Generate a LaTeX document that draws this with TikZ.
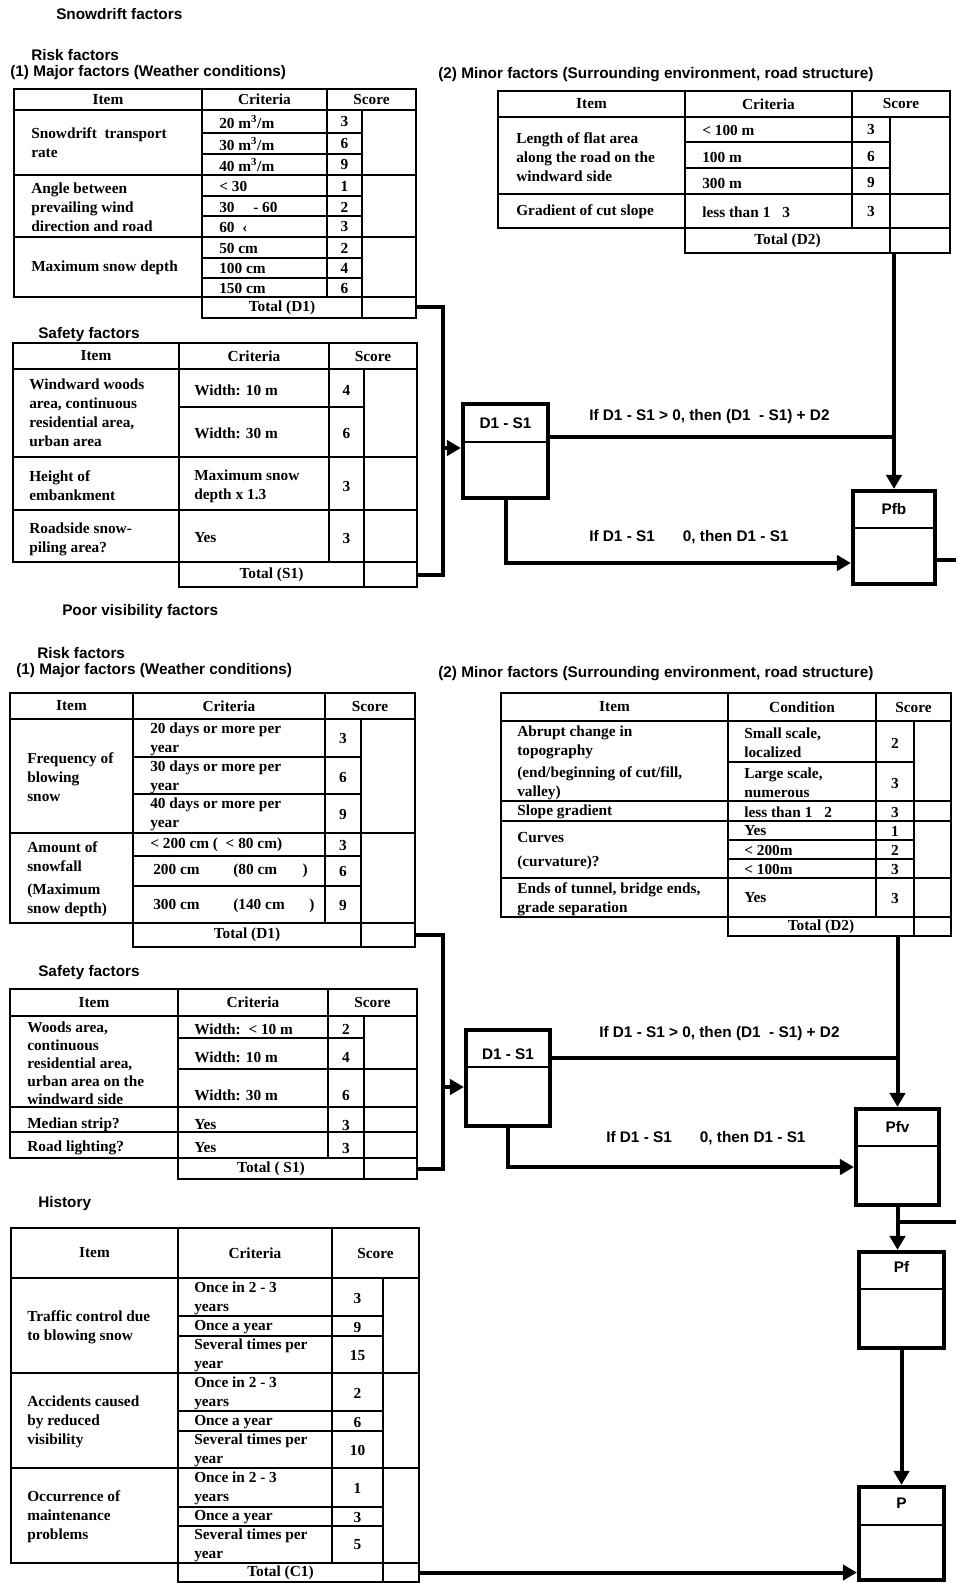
\documentclass[tikz,border=0pt]{standalone}
\usepackage{fontspec}
\setmainfont{Liberation Serif}
\newfontfamily\headfont{Liberation Sans}
\usetikzlibrary{arrows.meta,fit}

\newcommand\tabtext{\bfseries\fontsize{11.5}{14.25}\selectfont}
\newcommand\headtext{\headfont\bfseries\fontsize{11.5}{14}\selectfont}

\tikzset{
  heading/.style={font=\headtext, anchor=west, inner sep=0pt},
  cell/.style={font=\tabtext, anchor=west, align=left, inner sep=0pt},
  num/.style={font=\tabtext, inner sep=0pt},
  grid/.style={line width=1.25pt},
  frame/.style={line width=1.8pt},
  totline/.style={line width=2.2pt},
  calcbox/.style={draw, line width=3.2pt, inner sep=0pt},
  link/.style={line width=3pt},
  arr/.style={link, -{Triangle[length=10.5pt,width=11.5pt]}},
}

\begin{document}
\begin{tikzpicture}[x=0.75pt, y=-0.75pt]
  \useasboundingbox (0,0) rectangle (956,1583);

  % 1. Snowdrift factors - major factors (D1)
  \node[heading] (tSnow) at (56,14) {Snowdrift factors};
  \node[heading] (tRiskA) at (31,55) {Risk factors};
  \node[heading] (tMajA) at (10,73) {(1) Major factors (Weather conditions)};
  \draw[frame] (14,89) rectangle (416,297);
  \draw[grid] (14,110) -- (416,110) (14,175) -- (416,175) (14,237) -- (416,237)
    (202,89) -- (202,297) (327,89) -- (327,297) (362,110) -- (362,297);
  \foreach \y in {133,154,196,216,258,278} \draw[grid] (202,\y) -- (362,\y);
  \node[num] (aH1) at (108,99.5) {Item};
  \node[num] (aH2) at (264.5,99.5) {Criteria};
  \node[num] (aH3) at (371.5,99.5) {Score};
  \node[cell] (aI1) at (31,143) {Snowdrift~ transport\\rate};
  \node[cell] (aI2) at (31,207) {Angle between\\prevailing wind\\direction and road};
  \node[cell] (aI3) at (31,268) {Maximum snow depth};
  \foreach \t/\s/\y [count=\i] in {{20 m\textsuperscript{3}/m}/3/122, {30 m\textsuperscript{3}/m}/6/144,
      {40 m\textsuperscript{3}/m}/9/165, < 30/1/186, 30\hspace{14pt}- 60/2/207, 60\enspace ‹/3/227,
      50 cm/2/248, 100 cm/4/268, 150 cm/6/288}
  { \node[cell] (aC\i) at (219,\y) {\t};
    \node[num] (aS\i) at (344.5,\y) {\s}; }
  \node[fit={(202,297) (416,318)}, draw, totline, inner sep=0pt] (totA) {};
  \draw[totline] (362,297) -- (362,318);
  \node[num] (totAt) at (282,307.5) {Total (D1)};

  % 2. Snowdrift factors - minor factors (D2)
  \node[heading] (tMinA) at (438,75) {(2) Minor factors (Surrounding environment, road structure)};
  \draw[frame] (498,91) rectangle (950,228);
  \draw[grid] (498,117) -- (950,117) (498,194) -- (950,194)
    (685,91) -- (685,228) (852,91) -- (852,228) (890,117) -- (890,228);
  \foreach \y in {142,168} \draw[grid] (685,\y) -- (890,\y);
  \node[num] (bH1) at (591.5,104) {Item};
  \node[num] (bH2) at (768.5,104) {Criteria};
  \node[num] (bH3) at (901,104) {Score};
  \node[cell] (bI1) at (516,157) {Length of flat area\\along the road on the\\windward side};
  \node[cell] (bI2) at (516,212) {Gradient of cut slope};
  \foreach \t/\s/\y [count=\i] in {< 100 m/3/130, 100 m/6/157, 300 m/9/183, less than 1\hspace{9pt}3/3/212}
  { \node[cell] (bC\i) at (702,\y) {\t};
    \node[num] (bS\i) at (871,\y) {\s}; }
  \node[fit={(685,228) (950,253)}, draw, totline, inner sep=0pt] (totB) {};
  \draw[totline] (890,228) -- (890,253);
  \node[num] (totBt) at (787.5,240.5) {Total (D2)};

  % 3. Snowdrift factors - safety factors (S1)
  \node[heading] (tSafeA) at (38,335) {Safety factors};
  \draw[frame] (13,343) rectangle (417,562);
  \draw[grid] (13,369) -- (417,369) (13,457) -- (417,457) (13,510) -- (417,510)
    (179,343) -- (179,562) (329,343) -- (329,562) (364,369) -- (364,562)
    (179,407) -- (364,407);
  \node[num] (cH1) at (96,356) {Item};
  \node[num] (cH2) at (254,356) {Criteria};
  \node[num] (cH3) at (373,356) {Score};
  \node[cell] (cI1) at (29,413) {Windward woods\\area, continuous\\residential area,\\urban area};
  \node[cell] (cI2) at (29,486) {Height of\\embankment};
  \node[cell] (cI3) at (29,539) {Roadside snow-\\piling area?};
  \foreach \t/\s/\y [count=\i] in {Width: 10 m/4/390, Width: 30 m/6/433,
      Maximum snow\\depth x 1.3/3/486, Yes/3/538}
  { \node[cell] (cC\i) at (194,\y) {\t};
    \node[num] (cS\i) at (346.5,\y) {\s}; }
  \node[fit={(179,562) (417,587)}, draw, totline, inner sep=0pt] (totC) {};
  \draw[totline] (364,562) -- (364,587);
  \node[num] (totCt) at (271.5,574.5) {Total (S1)};

  % 4. Snowdrift factors - evaluation
  \node[fit={(463,404) (548,498)}, calcbox] (diffA) {};
  \draw[grid] (diffA.west |- 0,442) -- (diffA.east |- 0,442);
  \node[heading, anchor=center] (diffAt) at (505.5,423) {D1 - S1};
  \node[fit={(853,491) (935,584)}, calcbox] (pfb) {};
  \draw[grid] (pfb.west |- 0,528) -- (pfb.east |- 0,528);
  \node[heading, anchor=center] (pfbt) at (894,509) {Pfb};
  \coordinate (jA) at (443,448);
  \coordinate (outA) at (956,560);
  \draw[link] (totA.east) -| (jA) |- (totC.east);
  \draw[arr] (jA) -- (diffA.west |- jA);
  \draw[arr] (totB.south -| pfb.north) -- (pfb.north);
  \draw[link] (diffA.east |- 0,437) -- (pfb.north |- 0,437);
  \draw[arr] (diffA.south) |- (pfb.west |- 0,563);
  \draw[link] (pfb.east |- outA) -- (outA);
  \node[heading] (condA1) at (589,417) {If D1 - S1 > 0, then (D1\ \ - S1) + D2};
  \node[heading] (condA2) at (589,537) {If D1 - S1\hspace{21pt}0, then D1 - S1};

  % 5. Poor visibility factors - major factors (D1)
  \node[heading] (tPoor) at (62,612) {Poor visibility factors};
  \node[heading] (tRiskB) at (37,653) {Risk factors};
  \node[heading] (tMajB) at (16,671) {(1) Major factors (Weather conditions)};
  \draw[frame] (10,693) rectangle (415,923);
  \draw[grid] (10,719) -- (415,719) (10,833) -- (415,833)
    (133,693) -- (133,923) (325,693) -- (325,923) (361,719) -- (361,923);
  \foreach \y in {757,794,856,886} \draw[grid] (133,\y) -- (361,\y);
  \node[num] (dH1) at (71.5,706) {Item};
  \node[num] (dH2) at (229,706) {Criteria};
  \node[num] (dH3) at (370,706) {Score};
  \node[cell] (dI1) at (27,777) {Frequency of\\blowing\\snow};
  \node[cell] (dI2) at (27,879) {Amount of\\snowfall\\[3pt](Maximum\\snow depth)};
  \node[cell] (dC1) at (150,739) {20 days or more per\\year};
  \node[cell] (dC2) at (150,777) {30 days or more per\\year};
  \node[cell] (dC3) at (150,814) {40 days or more per\\year};
  \node[cell] (dC4) at (150,845) {\makebox[47pt][l]{< 200 cm}(\ \ < 80 cm)};
  \node[cell] (dC5) at (153,871) {\makebox[60pt][l]{200 cm}\makebox[52pt][l]{(80 cm})};
  \node[cell] (dC6) at (153,906) {\makebox[60pt][l]{300 cm}\makebox[57pt][l]{(140 cm})};
  \foreach \s/\y [count=\i] in {3/738, 6/777, 9/814, 3/845, 6/871, 9/905}
    \node[num] (dS\i) at (343,\y) {\s};
  \node[fit={(133,923) (415,947)}, draw, totline, inner sep=0pt] (totD) {};
  \draw[totline] (361,923) -- (361,947);
  \node[num] (totDt) at (247,935) {Total (D1)};

  % 6. Poor visibility factors - minor factors (D2)
  \node[heading] (tMinB) at (438,674) {(2) Minor factors (Surrounding environment, road structure)};
  \draw[frame] (501,693) rectangle (951,917);
  \draw[grid] (501,721) -- (951,721) (501,801) -- (951,801) (501,821) -- (951,821)
    (501,878) -- (951,878)
    (728,693) -- (728,917) (876,693) -- (876,917) (914,721) -- (914,917);
  \foreach \y in {762,840,859} \draw[grid] (728,\y) -- (914,\y);
  \node[num] (eH1) at (614.5,707) {Item};
  \node[num] (eH2) at (802,707) {Condition};
  \node[num] (eH3) at (913.5,707) {Score};
  \node[cell] (eI1) at (517,763) {Abrupt change in\\topography\\[2pt](end/beginning of cut/fill,\\valley)};
  \node[cell] (eI2) at (517,812) {Slope gradient};
  \node[cell] (eI3) at (517,851) {Curves\\[4pt](curvature)?};
  \node[cell] (eI4) at (517,899) {Ends of tunnel, bridge ends,\\grade separation};
  \foreach \t/\s/\y [count=\i] in {{Small scale,\\localized}/2/743, {Large scale,\\numerous}/3/783,
      less than 1\hspace{9pt}2/3/812, Yes/1/831, < 200m/2/850, < 100m/3/869, Yes/3/898}
  { \node[cell] (eC\i) at (744,\y) {\t};
    \node[num] (eS\i) at (895,\y) {\s}; }
  \node[fit={(728,917) (951,936)}, draw, totline, inner sep=0pt] (totE) {};
  \draw[totline] (914,917) -- (914,936);
  \node[num] (totEt) at (821,926.5) {Total (D2)};

  % 7. Poor visibility factors - safety factors (S1)
  \node[heading] (tSafeB) at (38,973) {Safety factors};
  \draw[frame] (10,989) rectangle (417,1158);
  \draw[grid] (10,1016) -- (417,1016) (10,1107) -- (417,1107) (10,1132) -- (417,1132)
    (178,989) -- (178,1158) (328,989) -- (328,1158) (364,1016) -- (364,1158)
    (178,1038) -- (364,1038) (178,1069) -- (417,1069);
  \node[num] (fH1) at (94,1002.5) {Item};
  \node[num] (fH2) at (253,1002.5) {Criteria};
  \node[num] (fH3) at (372.5,1002.5) {Score};
  \node[cell, font=\bfseries\fontsize{11.5}{13.5}\selectfont] (fI1) at (27,1063)
    {Woods area,\\continuous\\residential area,\\urban area on the\\windward side};
  \node[cell] (fI2) at (27,1125) {Median strip?};
  \node[cell] (fI3) at (27,1148) {Road lighting?};
  \foreach \t/\s/\y [count=\i] in {Width:\ \ < 10 m/2/1029, Width: 10 m/4/1057, Width: 30 m/6/1095,
      Yes/3/1125, Yes/3/1148}
  { \node[cell] (fC\i) at (194,\y) {\t};
    \node[num] (fS\i) at (346,\y) {\s}; }
  \node[fit={(178,1158) (417,1179)}, draw, totline, inner sep=0pt] (totF) {};
  \draw[totline] (364,1158) -- (364,1179);
  \node[num] (totFt) at (271,1168.5) {Total ( S1)};

  % 8. Poor visibility factors - evaluation
  \node[fit={(466,1030) (550,1126)}, calcbox] (diffB) {};
  \draw[grid] (diffB.west |- 0,1067) -- (diffB.east |- 0,1067);
  \node[heading, anchor=center] (diffBt) at (508,1054) {D1 - S1};
  \node[fit={(856,1109) (939,1205)}, calcbox] (pfv) {};
  \draw[grid] (pfv.west |- 0,1146) -- (pfv.east |- 0,1146);
  \node[heading, anchor=center] (pfvt) at (897.5,1127) {Pfv};
  \coordinate (jB) at (443,1087);
  \draw[link] (totD.east) -| (jB) |- (totF.east);
  \draw[arr] (jB) -- (diffB.west |- jB);
  \draw[arr] (totE.south -| pfv.north) -- (pfv.north);
  \draw[link] (diffB.east |- 0,1058) -- (pfv.north |- 0,1058);
  \draw[arr] (diffB.south) |- (pfv.west |- 0,1167);
  \node[heading] (condB1) at (599,1034) {If D1 - S1 > 0, then (D1\ \ - S1) + D2};
  \node[heading] (condB2) at (606,1138) {If D1 - S1\hspace{21pt}0, then D1 - S1};

  % 9. History (C1)
  \node[heading] (tHist) at (38,1204) {History};
  \draw[frame] (11,1228) rectangle (419,1563);
  \draw[grid] (11,1278) -- (419,1278) (11,1373) -- (419,1373) (11,1468) -- (419,1468)
    (178,1228) -- (178,1563) (332,1228) -- (332,1563) (383,1278) -- (383,1563);
  \foreach \y in {1316,1336,1411,1431,1507,1526} \draw[grid] (178,\y) -- (383,\y);
  \node[num] (gH1) at (94.5,1253) {Item};
  \node[num] (gH2) at (255,1253) {Criteria};
  \node[num] (gH3) at (375.5,1253) {Score};
  \node[cell] (gI1) at (27,1327) {Traffic control due\\to blowing snow};
  \node[cell] (gI2) at (27,1422) {Accidents caused\\by reduced\\visibility};
  \node[cell] (gI3) at (27,1517) {Occurrence of\\maintenance\\problems};
  \foreach \o/\a/\b/\c [count=\g] in {0/3/9/15, 95/2/6/10, 190/1/3/5}
  { \node[cell] (gC\g a) at (194,1298.5+\o) {Once in 2 - 3\\years};
    \node[cell] (gC\g b) at (194,1327+\o) {Once a year};
    \node[cell] (gC\g c) at (194,1355.5+\o) {Several times per\\year};
    \node[num] (gS\g a) at (357.5,1298+\o) {\a};
    \node[num] (gS\g b) at (357.5,1327+\o) {\b};
    \node[num] (gS\g c) at (357.5,1355+\o) {\c}; }
  \node[fit={(178,1563) (419,1582)}, draw, totline, inner sep=0pt] (totG) {};
  \draw[totline] (383,1563) -- (383,1582);
  \node[num] (totGt) at (280.5,1572.5) {Total (C1)};

  % 10. Combined evaluation
  \node[fit={(859,1252) (944,1348)}, calcbox] (pf) {};
  \draw[grid] (pf.west |- 0,1289) -- (pf.east |- 0,1289);
  \node[heading, anchor=center] (pft) at (901.5,1267) {Pf};
  \node[fit={(859,1487) (944,1580)}, calcbox] (pBox) {};
  \draw[grid] (pBox.west |- 0,1525) -- (pBox.east |- 0,1525);
  \node[heading, anchor=center] (pBoxt) at (901.5,1503) {P};
  \coordinate (inV) at (956,1222);
  \draw[arr] (pfv.south) -- (pfv.south |- pf.north);
  \draw[link] (inV) -- (pfv.south |- inV);
  \draw[arr] (pf.south) -- (pBox.north);
  \draw[arr] (totG.east) -- (pBox.west |- totG.east);

\end{tikzpicture}
\end{document}
